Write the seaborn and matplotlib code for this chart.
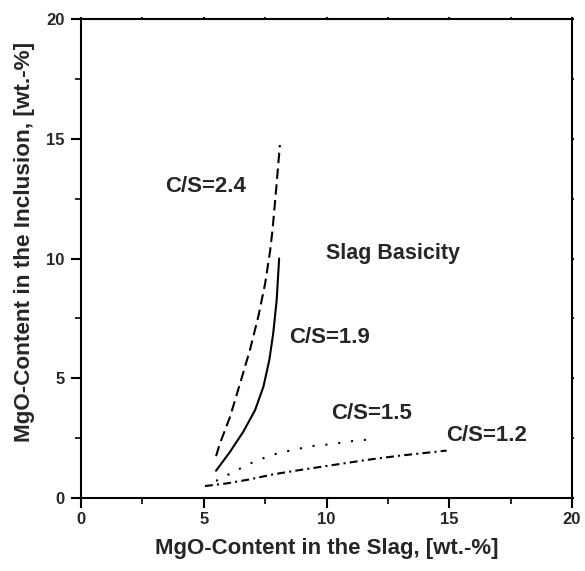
import matplotlib
matplotlib.use("Agg")
import matplotlib.pyplot as plt
import seaborn as sns
from matplotlib.ticker import MultipleLocator

# ---- data ----
x_cs24 = [5.5, 5.66, 6.07, 6.48, 6.88, 7.22, 7.5, 7.7, 7.8, 7.97, 8.1]
y_cs24 = [1.75, 2.28, 3.39, 4.79, 6.18, 7.57, 8.96, 10.3, 11.19, 13.14, 14.74]

x_cs19 = [5.5, 6.07, 6.61, 7.09, 7.43, 7.67, 7.83, 7.97, 8.07]
y_cs19 = [1.14, 1.93, 2.77, 3.67, 4.65, 5.76, 6.88, 8.27, 10.0]

x_cs15 = [5.5, 5.69, 6.09, 6.91, 7.76, 8.58, 9.40, 10.21, 11.07, 11.88]
y_cs15 = [0.72, 0.78, 1.03, 1.45, 1.80, 2.00, 2.17, 2.25, 2.38, 2.46]

x_cs12 = [5.05, 5.93, 6.88, 7.83, 8.92, 10.28, 11.63, 12.99, 14.89]
y_cs12 = [0.50, 0.61, 0.78, 0.99, 1.17, 1.38, 1.59, 1.77, 1.98]

labels = ["C/S=2.4", "C/S=1.9", "C/S=1.5", "C/S=1.2"]
label_pos = [(3.42, 13.0), (8.47, 6.72), (10.2, 3.55), (14.87, 2.63)]
annot_text = "Slag Basicity"
annot_pos = (12.7, 10.2)

xlabel = "MgO-Content in the Slag, [wt.-%]"
ylabel = "MgO-Content in the Inclusion, [wt.-%]"

sns.set_style("white")
plt.rcParams["font.family"] = ["Liberation Sans", "DejaVu Sans"]
plt.rcParams["font.weight"] = "bold"

fig = plt.figure(figsize=(5.85, 5.71), dpi=100)
ax = fig.add_axes([0.1385, 0.1278, 0.8393, 0.8389])

lw = 1.5
common = dict(ax=ax, color="black", lw=lw, estimator=None, sort=False)
sns.lineplot(x=x_cs24, y=y_cs24, linestyle=(0, (5, 2.6)), **common)
sns.lineplot(x=x_cs19, y=y_cs19, linestyle="-", **common)
sns.lineplot(x=x_cs15, y=y_cs15, linestyle=(0, (1, 5.2)), **common)
sns.lineplot(x=x_cs12, y=y_cs12, linestyle=(0, (3.8, 2, 1, 2)), **common)
for ln in ax.get_lines():
    ln.set_solid_joinstyle("round")
    ln.set_dash_joinstyle("round")

for t, (px, py) in zip(labels, label_pos):
    ax.text(px, py, t, fontsize=16, fontweight="bold", ha="left", va="center")
ax.text(annot_pos[0], annot_pos[1], annot_text, fontsize=15.5,
        fontweight="bold", ha="center", va="center")

ax.set_xlim(0, 20)
ax.set_ylim(0, 20)
ax.xaxis.set_major_locator(MultipleLocator(5))
ax.yaxis.set_major_locator(MultipleLocator(5))
ax.xaxis.set_minor_locator(MultipleLocator(2.5))
ax.yaxis.set_minor_locator(MultipleLocator(2.5))

for s in ax.spines.values():
    s.set_visible(True)
    s.set_linewidth(1.5)
    s.set_color("black")

ax.tick_params(which="major", direction="out", length=7, width=1.5,
               labelsize=12, pad=3, bottom=True, left=True, color="black")
ax.tick_params(which="minor", direction="out", length=4, width=1.2,
               bottom=True, left=True, color="black")
ax.tick_params(axis="y", which="major", pad=5)
ax.tick_params(which="both", top=True, right=True)
for tk in ax.xaxis.get_major_ticks() + ax.xaxis.get_minor_ticks():
    tk.tick2line.set_markersize(1.5)
for tk in ax.yaxis.get_major_ticks() + ax.yaxis.get_minor_ticks():
    tk.tick2line.set_markersize(1.5)

for lab in ax.get_xticklabels() + ax.get_yticklabels():
    lab.set_fontweight("bold")

ax.set_xlabel(xlabel, fontsize=16, fontweight="bold", labelpad=8)
ax.set_ylabel(ylabel, fontsize=16.2, fontweight="bold", labelpad=8)
ax.yaxis.label.set_y(0.534)

fig.savefig("out.png", dpi=100)
